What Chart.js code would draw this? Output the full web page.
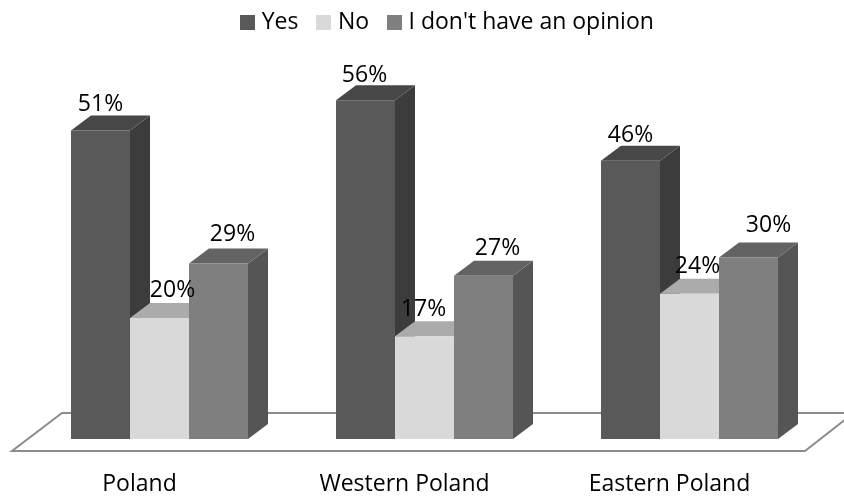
<!DOCTYPE html>
<html>
<head>
<meta charset="utf-8">
<script src="https://cdn.jsdelivr.net/npm/chart.js@4"></script>
<style>
  html, body { margin: 0; padding: 0; background: #fff; }
  #wrap { width: 844px; height: 496px; position: relative; overflow: hidden; }
</style>
</head>
<body>
<div id="wrap"><canvas id="opinionChart"></canvas></div>
<script>
// ====== DATA ======
const categories = ['Poland', 'Western Poland', 'Eastern Poland'];
const yesValues = [51, 56, 46];
const noValues = [20, 17, 24];
const noOpinionValues = [29, 27, 30];

// ====== STYLE ======
const FONT = '"Open Sans"';
const DEPTH_X = 20;
const DEPTH_Y = 15;
const shades = [
  { front: '#595959', side: '#3c3c3c', top: '#474747' },
  { front: '#d9d9d9', side: '#adadad', top: '#ababab' },
  { front: '#7f7f7f', side: '#555555', top: '#636363' }
];
// label shift from the centre of the bar, [dx, gap above the front top]
const labelNudge = [
  [[0, 26], [-1, 25], [0, 25]],
  [[13, 28], [-1, 27], [8, 27]],
  [[14, 29], [14, 27], [20, 32]]
];

// legend swatches as images, so the gap to the text can be tighter than the default
const swatches = shades.map(s => {
  const c = document.createElement('canvas');
  c.width = 15;
  c.height = 15;
  const g = c.getContext('2d');
  g.fillStyle = s.front;
  g.fillRect(0, 0, 15, 15);
  return c;
});

function poly(ctx, pts, fill) {
  ctx.beginPath();
  pts.forEach((p, i) => i ? ctx.lineTo(p[0], p[1]) : ctx.moveTo(p[0], p[1]));
  ctx.closePath();
  ctx.fillStyle = fill;
  ctx.fill();
}

// floor + the side and top faces of the bars, the fronts come from Chart.js
const box3d = {
  id: 'box3d',
  afterLayout(chart) {
    chart.legend.left += 25;
    chart.legend.right += 25;
    chart.legend.top -= 32;
    chart.legend.bottom -= 32;
  },
  beforeDatasetsDraw(chart) {
    const ctx = chart.ctx;
    const xs = chart.scales.x;
    const y0 = chart.scales.y.getPixelForValue(0);

    ctx.save();
    ctx.strokeStyle = '#8c8c8c';
    ctx.lineWidth = 2;
    ctx.beginPath();
    ctx.moveTo(xs.right + 24, y0 - 26);
    ctx.lineTo(xs.left + 35, y0 - 26);
    ctx.lineTo(xs.left - 15, y0 + 12);
    ctx.lineTo(xs.right - 17, y0 + 12);
    ctx.lineTo(xs.right + 24, y0 - 20);
    ctx.stroke();

    categories.forEach((c, i) => {
      chart.data.datasets.forEach((d, k) => {
        const bar = chart.getDatasetMeta(k).data[i];
        const l = bar.x - bar.width / 2;
        const r = bar.x + bar.width / 2;
        poly(ctx, [[r, bar.y], [r + DEPTH_X, bar.y - DEPTH_Y], [r + DEPTH_X, y0 - DEPTH_Y], [r, y0]], shades[k].side);
        poly(ctx, [[l, bar.y], [r, bar.y], [r + DEPTH_X, bar.y - DEPTH_Y], [l + DEPTH_X, bar.y - DEPTH_Y]], shades[k].top);
      });
    });
    ctx.restore();
  },
  afterDatasetsDraw(chart) {
    const ctx = chart.ctx;
    ctx.save();
    ctx.font = '23px ' + FONT;
    ctx.fillStyle = '#000';
    ctx.textAlign = 'center';
    ctx.textBaseline = 'middle';
    chart.data.datasets.forEach((d, k) => {
      chart.getDatasetMeta(k).data.forEach((bar, i) => {
        const n = labelNudge[k][i];
        ctx.fillText(d.data[i] + '%', bar.x + n[0], bar.y - n[1]);
      });
    });
    ctx.restore();
  }
};

new Chart(document.getElementById('opinionChart'), {
  type: 'bar',
  data: {
    labels: categories,
    datasets: [
      { label: 'Yes', data: yesValues, backgroundColor: shades[0].front },
      { label: 'No', data: noValues, backgroundColor: shades[1].front },
      { label: "I don't have an opinion", data: noOpinionValues, backgroundColor: shades[2].front }
    ]
  },
  options: {
    responsive: true,
    maintainAspectRatio: false,
    animation: false,
    categoryPercentage: 0.668,
    barPercentage: 1,
    layout: { padding: { left: 27, right: 22, top: 20, bottom: 0 } },
    plugins: {
      tooltip: { enabled: false },
      legend: {
        position: 'top',
        labels: {
          usePointStyle: true,
          pointStyleWidth: 5,
          padding: 23,
          color: '#000',
          font: { family: FONT, size: 23 },
          generateLabels(chart) {
            const items = Chart.defaults.plugins.legend.labels.generateLabels(chart);
            items.forEach(it => { it.pointStyle = swatches[it.datasetIndex]; });
            return items;
          }
        }
      }
    },
    scales: {
      x: {
        afterFit(scale) { scale.height = 57; },
        grid: { display: false },
        border: { display: false },
        ticks: { color: '#000', padding: 24, labelOffset: -20, maxRotation: 0, autoSkip: false, font: { family: FONT, size: 23 } }
      },
      y: { display: false, min: 0, max: 60 }
    }
  },
  plugins: [box3d]
});
</script>
</body>
</html>
